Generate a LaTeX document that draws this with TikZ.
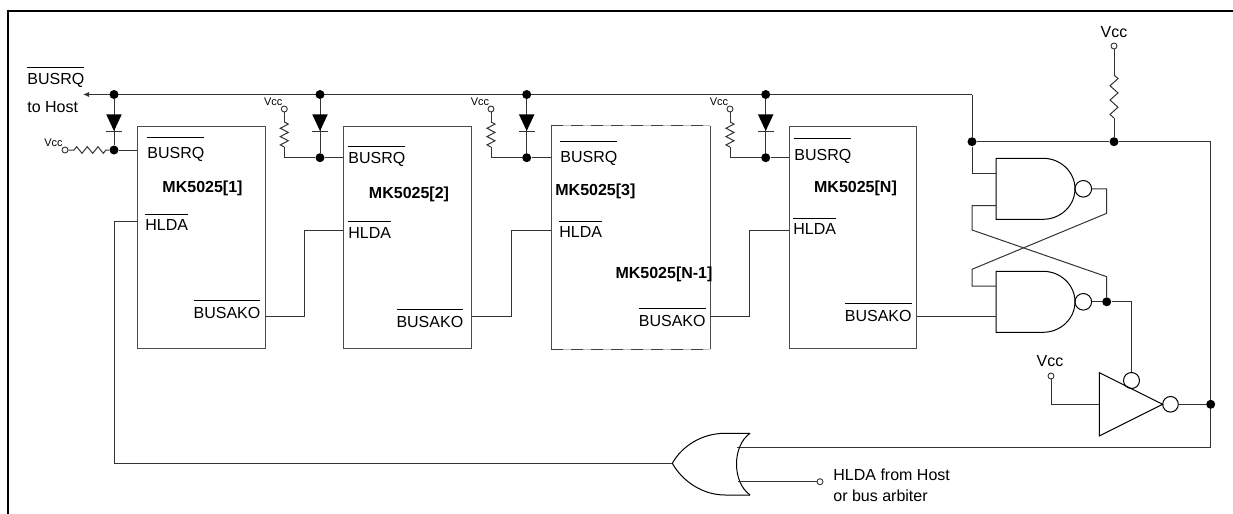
\documentclass[tikz,border=0pt]{standalone}
\usepackage{fontspec}
\setmainfont{Liberation Sans}
\usetikzlibrary{arrows.meta}
\newcommand\ovl[2][3pt]{\setbox0\hbox{#2}\rlap{\raisebox{\dimexpr\ht0+#1\relax}{\rule{\wd0}{0.45pt}}}\box0}
\newcommand\myresv[3]{% x, ytop, ybot (vertical resistor)
  \draw[wire] (#1,#2) -- ({#1+4},{#2+(#3-#2)/12}) -- ({#1-4},{#2+3*(#3-#2)/12}) -- ({#1+4},{#2+5*(#3-#2)/12}) -- ({#1-4},{#2+7*(#3-#2)/12}) -- ({#1+4},{#2+9*(#3-#2)/12}) -- ({#1-4},{#2+11*(#3-#2)/12}) -- (#1,#3);}
\newcommand\mydiode[1]{% x position
  \fill[black] ({#1-7.8},114.3) -- ({#1+7.8},114.3) -- (#1,131) -- cycle;
  \draw[wire] ({#1-7.8},131) -- ({#1+7.8},131);}
\newcommand\mynand[2]{% x left, y centre
  \draw[gate] ({#1+47},{#2-30.5}) -- (#1,{#2-30.5}) -- (#1,{#2+30.5}) -- ({#1+47},{#2+30.5})
    .. controls ({#1+47+17.7},{#2+30.5}) and ({#1+79},{#2+16.8}) .. ({#1+79},#2)
    .. controls ({#1+79},{#2-16.8}) and ({#1+47+17.7},{#2-30.5}) .. ({#1+47},{#2-30.5}) -- cycle;
  \draw[gate] ({#1+87.3},#2) circle[radius=4.15pt];}
\begin{document}
\begin{tikzpicture}[x=0.5pt,y=-0.5pt,
  wire/.style={line width=0.5pt, draw=black!80},
  gate/.style={line width=0.5pt, draw=black},
  dot/.style={circle, fill=black, inner sep=0pt, minimum size=4.5pt},
  term/.style={circle, draw=black!80, fill=white, line width=0.45pt, inner sep=0pt, minimum size=3pt},
  box/.style={draw=black!70, line width=0.5pt, inner sep=0pt, minimum width=63.7pt, minimum height=111.25pt},
  lbl/.style={inner sep=0pt, font=\fontsize{8}{9.6}\selectfont, anchor=base west},
  lblr/.style={lbl, anchor=base east},
  ttl/.style={inner sep=0pt, font=\fontsize{8}{9.6}\selectfont\bfseries, anchor=base},
  tinyv/.style={inner sep=0pt, font=\fontsize{5.5}{6}\selectfont, anchor=base east}]

\useasboundingbox (0,0) rectangle (1233,514);
\draw[line width=1.1pt] (8,514) -- (8,11) -- (1233,11);

% ---------- boxes ----------
\node[box] (b1) at (201.5,237.25) {};
\node[box] (b2) at (407.6,237.25) {};
\node[box, draw=none, minimum width=79.1pt] (b3) at (630.6,237.25) {};
\node[box] (b4) at (853,237.25) {};
\draw[draw=black!70, line width=0.5pt] (b3.north west) -- (b3.south west) (b3.north east) -- (b3.south east);
\draw[draw=black!25, line width=0.5pt] (b3.north west) -- (b3.north east) (b3.south west) -- (b3.south east);
\draw[draw=black!75, line width=0.5pt, dash pattern=on 6pt off 4pt] (b3.north west) -- (b3.north east) (b3.south west) -- (b3.south east);

% ---------- labels in boxes ----------
\node[lbl] (t1a) at (147,158.5) {\ovl[4.5pt]{BUSRQ}};
\node[ttl] (t1b) at (202.5,192.8) {MK5025[1]};
\node[lbl] (t1c) at (145,230.8) {\ovl[2.5pt]{HLDA}};
\node[lblr] (t1d) at (260.7,318.5) {\ovl{BUSAKO}};

\node[lbl] (t2a) at (348,163.8) {\ovl{BUSRQ}};
\node[ttl] (t2b) at (409,198.8) {MK5025[2]};
\node[lbl] (t2c) at (348,238.8) {\ovl[2.8pt]{HLDA}};
\node[lblr] (t2d) at (463.6,327.5) {\ovl{BUSAKO}};

\node[lbl] (t3a) at (560,162.5) {\ovl[4.5pt]{BUSRQ}};
\node[ttl, anchor=base west] (t3b) at (555,195.8) {MK5025[3]};
\node[lbl] (t3c) at (559,237.5) {\ovl[2.5pt]{HLDA}};
\node[lblr] (t3d) at (706,326.5) {\ovl{BUSAKO}};
\node[ttl] (t3e) at (664,278.8) {MK5025[N-1]};

\node[lbl] (t4a) at (794,160.8) {\ovl[5.5pt]{BUSRQ}};
\node[ttl] (t4b) at (855.5,192.5) {MK5025[N]};
\node[lbl] (t4c) at (793,234.8) {\ovl[2.5pt]{HLDA}};
\node[lblr] (t4d) at (912,321.5) {\ovl{BUSAKO}};

% ---------- bus ----------
\node[lbl] (host1) at (27,84.8) {\ovl{BUSRQ}};
\node[lbl] (host2) at (27,112.8) {to Host};
\coordinate (busR) at (972,94.5);
\coordinate (busL) at (83,94.5);
\draw[wire, -{Latex[length=3pt,width=2.6pt]}] (busR) -- (busL);

\node[dot] (d1) at (114,94.5) {};
\node[dot] (d2) at (320,94.5) {};
\node[dot] (d3) at (526.7,94.5) {};
\node[dot] (d4) at (765.7,94.5) {};
\node[dot] (e1) at (114,150) {};
\node[dot] (e2) at (320,157.7) {};
\node[dot] (e3) at (526.7,157.7) {};
\node[dot] (e4) at (765.7,157.7) {};
\foreach \i in {1,...,4} {\draw[wire] (d\i) -- (e\i);}
\mydiode{114}
\mydiode{320}
\mydiode{526.7}
\mydiode{765.7}

% box 1 pull-up (horizontal)
\node[term] (v1) at (65,150) {};
\node[tinyv] (vl1) at (63,146.7) {Vcc};
\draw[wire] (v1) -- (74,150) -- (76.7,146.7) -- (82,153.3) -- (87.3,146.7) -- (92.7,153.3) -- (98,146.7) -- (103.3,153.3) -- (106,150) -- (e1);
\draw[wire] (e1) -- (b1.west |- e1);

% boxes 2-4 pull-ups (vertical)
\foreach \i/\xr in {2/284.3, 3/491, 4/730} {
  \node[term] (v\i) at (\xr,109) {};
  \node[tinyv] (vl\i) at (\xr-1.5,105.5) {Vcc};
  \draw[wire] (v\i) -- (\xr,122);
  \myresv{\xr}{122}{147}
  \draw[wire] (\xr,147) |- (e\i);
}
\draw[wire] (e2) -- (b2.west |- e2);
\draw[wire] (e3) -- (b3.west |- e3);
\draw[wire] (e4) -- (b4.west |- e4);

% ---------- HLDA / BUSAKO chain ----------
\draw[wire] (b1.east |- 0,316.7) -- (304.7,316.7) |- (b2.west |- 0,230);
\draw[wire] (b2.east |- 0,316.7) -- (511.4,316.7) |- (b3.west |- 0,230);
\draw[wire] (b3.east |- 0,316.7) -- (749.3,316.7) |- (b4.west |- 0,230);

% ---------- flip-flop ----------
\mynand{996}{188.8}
\mynand{996}{301.8}
\coordinate (n1o) at (1091.6,188.8);
\coordinate (n2o) at (1091.6,301.8);
\node[dot] (jn) at (972,141.7) {};
\node[dot] (jv) at (1114,141.7) {};
\node[dot] (q) at (1106.7,301.8) {};
\draw[wire] (busR) -- (jn);
\draw[wire] (jn) -- (972,173.3) -- (996,173.3);
\draw[wire] (jn) -- (jv) -- (1210.7,141.7) -- (1210.7,447.7) -- (737,447.7);
\draw[wire] (996,205.7) -- (972,205.7) -- (972,230) -- (1106.7,276.7) -- (q);
\draw[wire] (n1o) -- (1106.7,188.8) -- (1106.7,213.3) -- (972,269.3) -- (972,286) -- (996,286);
\draw[wire] (b4.east |- 0,316.7) -- (996,316.7);
\draw[wire] (n2o) -- (q) -- (1131.5,301.8) -- (1131.5,372.5);

% top pull-up
\node[lbl, anchor=base] (vccT) at (1114,37.8) {Vcc};
\node[term] (vT) at (1114,46) {};
\draw[wire] (vT) -- (1114,75);
\myresv{1114}{75}{118}
\draw[wire] (1114,118) -- (jv);

% inverter
\draw[gate] (1099.3,372.7) -- (1099.3,436) -- (1162.7,404.3) -- cycle;
\draw[gate] (1131.5,380.5) circle[radius=4pt];
\draw[gate] (1170.5,404.3) circle[radius=3.9pt];
\node[dot] (jo) at (1210.7,404.3) {};
\draw[wire] (1178.3,404.3) -- (jo);
\node[lbl, anchor=base] (vccL) at (1050,366.8) {Vcc};
\node[term] (vL) at (1051,376) {};
\draw[wire] (vL) |- (1099.3,404.3);

% ---------- OR gate ----------
\draw[gate] (750,433.3) -- (725,433.3) .. controls (702,433.3) and (682,446) .. (672.3,463.3)
  .. controls (682,480.6) and (702,495) .. (725,495) -- (750,495);
\draw[gate] (750,433.3) .. controls (732,446) and (732,482) .. (750,495);
\coordinate (ortip) at (672.3,463.3);
\draw[wire] (ortip) -- (114.5,463.3) -- (114.5,221.7) -- (b1.west |- 0,221.7);
\node[term] (vH) at (820,481.7) {};
\draw[wire] (737.5,481.7) -- (vH);
\node[lbl] (h1) at (833,480.8) {HLDA from Host};
\node[lbl] (h2) at (833,501.8) {or bus arbiter};
\end{tikzpicture}
\end{document}
